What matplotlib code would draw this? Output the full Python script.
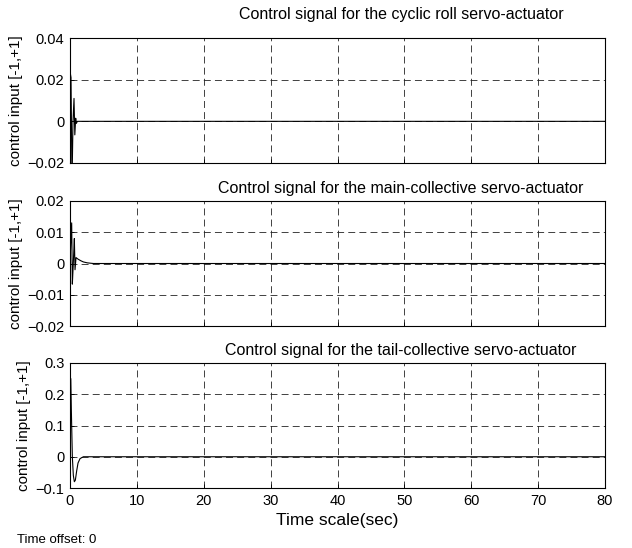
import matplotlib
matplotlib.use("Agg")
import matplotlib.pyplot as plt
from matplotlib.ticker import FuncFormatter

plt.rcParams['font.family'] = ['Liberation Sans', 'DejaVu Sans']
plt.rcParams['lines.scale_dashes'] = False

# values (time in sec)
t_roll = [0, 0.05, 0.15, 0.3, 0.45, 0.6, 0.72, 0.85, 0.95, 1.1, 80]
u_roll = [0, 0.023, 0.021, -0.03, 0.0, 0.011, -0.0065, 0.0015, -0.001, 0, 0]

t_main = [0, 0.1, 0.25, 0.35, 0.45, 0.55, 0.65, 0.75, 0.9, 1.2, 1.6, 2.0, 2.6, 3.5, 80]
u_main = [0, 0.006, 0.013, -0.0066, -0.002, 0.003, 0.008, -0.002, 0.0019,
          0.0014, 0.0009, 0.0005, 0.0002, 0, 0]

t_tail = [0, 0.03, 0.12, 0.2, 0.35, 0.5, 0.65, 0.8, 1.0, 1.2, 1.5, 2.0, 80]
u_tail = [0, 0.25, 0.25, 0.15, 0.0, -0.06, -0.08, -0.075, -0.045, -0.02, -0.006, 0, 0]

titles = ["Control signal for the cyclic roll servo-actuator",
          "Control signal for the main-collective servo-actuator",
          "Control signal for the tail-collective servo-actuator"]
ylims = [(-0.02, 0.04), (-0.02, 0.02), (-0.1, 0.3)]
yticks = [[-0.02, 0, 0.02, 0.04],
          [-0.02, -0.01, 0, 0.01, 0.02],
          [-0.1, 0, 0.1, 0.2, 0.3]]
xticks = [0, 10, 20, 30, 40, 50, 60, 70, 80]

fig = plt.figure(figsize=(6.32, 5.48), dpi=100)
left, width, height = 70 / 632, 535 / 632, 125 / 548
bottoms = [1 - 163 / 548, 1 - 326 / 548, 1 - 488 / 548]
series = [(t_roll, u_roll), (t_main, u_main), (t_tail, u_tail)]

fmt = FuncFormatter(lambda v, p: ('%g' % v).replace('-', '\u2212'))

for i in range(3):
    ax = fig.add_axes([left, bottoms[i], width, height])
    t, u = series[i]
    ax.plot(t, u, color='black', lw=0.8)
    ax.set_xlim(0, 80)
    ax.set_ylim(*ylims[i])
    ax.set_xticks(xticks)
    ax.set_yticks(yticks[i])
    ax.yaxis.set_major_formatter(fmt)
    ax.grid(True, color='#222222', linestyle=(0, (5, 3)), lw=0.6)
    ax.tick_params(direction='in', length=3, labelsize=10.5, width=0.6, pad=4)
    for s in ax.spines.values():
        s.set_linewidth(0.8)
    if i < 2:
        ax.set_xticklabels([])
    ax.set_ylabel('control input [-1,+1]', fontsize=11, labelpad=3)
    ax.text(0.619, 1.04 if i > 0 else 1.13, titles[i], transform=ax.transAxes,
            ha='center', va='bottom', fontsize=11.5)
    if i == 2:
        ax.set_xlabel('Time scale(sec)', fontsize=12.5, labelpad=4)

fig.align_ylabels(fig.axes)
fig.text(17 / 632, 1 - 543 / 548, 'Time offset: 0', fontsize=9.5, va='baseline')

fig.savefig("out.png", dpi=100)
